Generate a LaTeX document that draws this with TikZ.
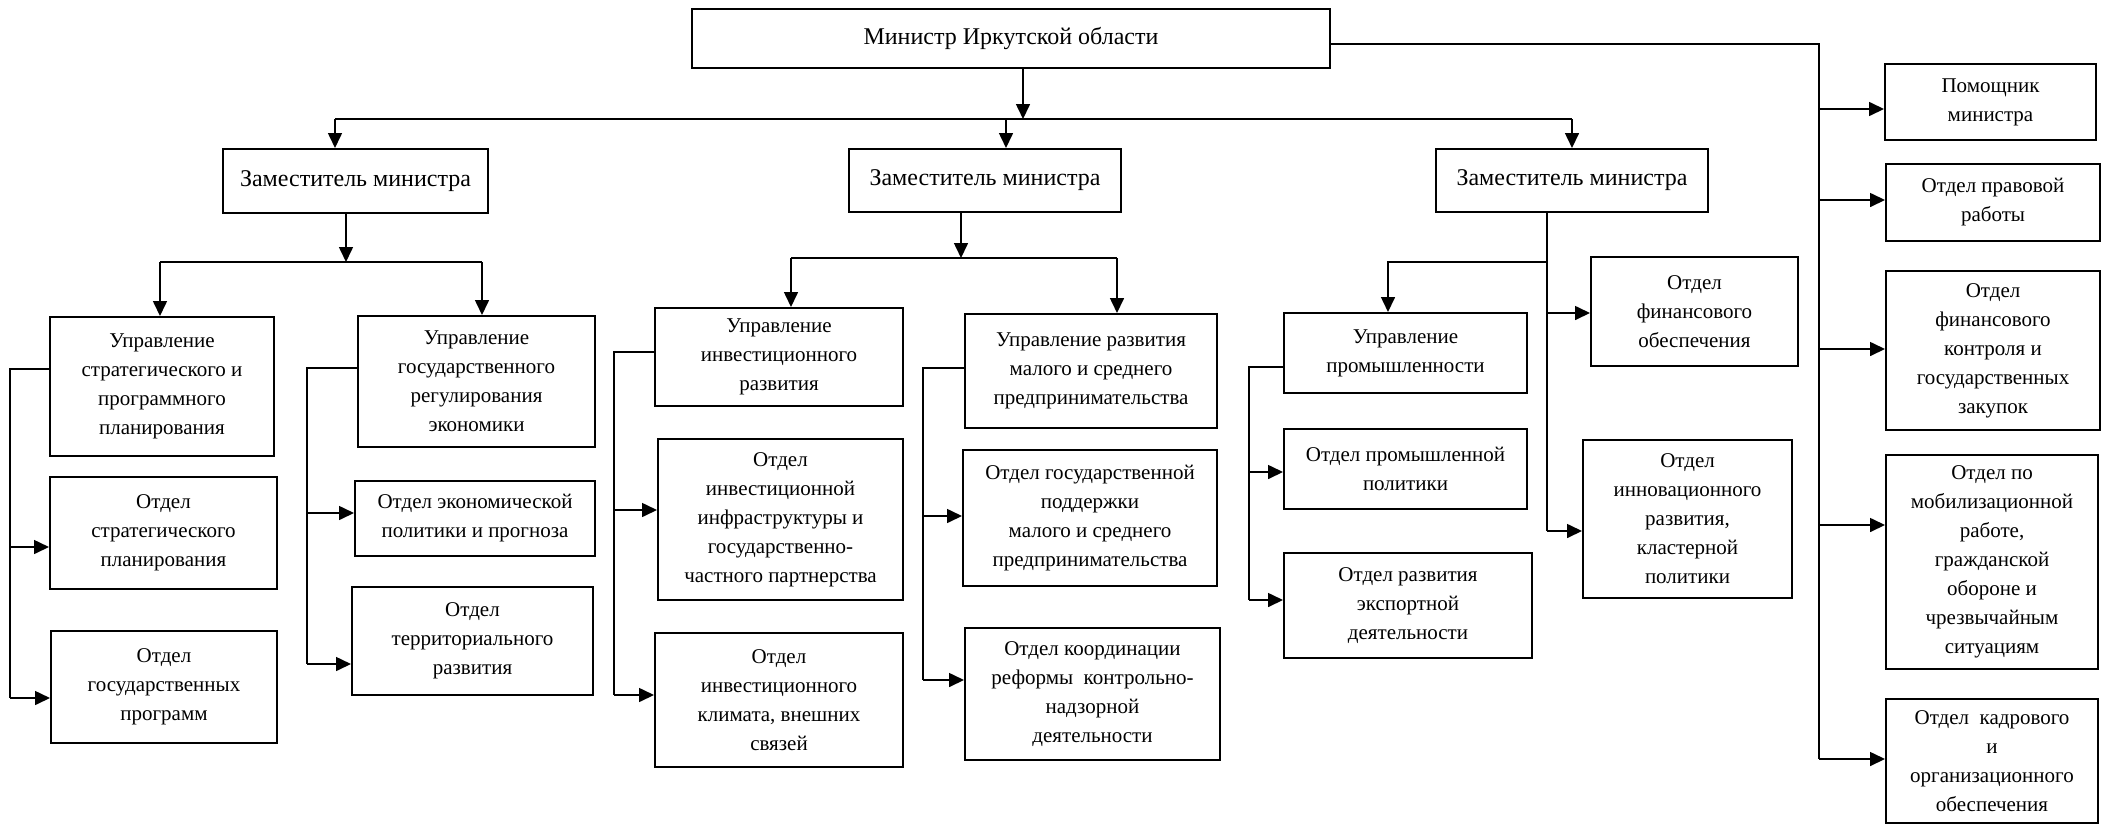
\documentclass[tikz,border=0pt]{standalone}
\usepackage{fontspec}
\setmainfont{Liberation Serif}
\usetikzlibrary{arrows.meta}
\tikzset{
  box/.style={draw, line width=1pt, inner sep=0pt, align=center, font=\fontsize{10.5}{14.5}\selectfont},
  topbox/.style={box, font=\fontsize{12}{14.5}\selectfont},
  conn/.style={draw, line width=0.8pt},
  arr/.style={conn, -{Triangle[length=7.5pt,width=7pt]}}
}
\newcommand\mybox[7][box]{\node[#1, minimum width={(#4-#2)*0.5pt}, minimum height={(#5-#3)*0.5pt}] (#6) at ({(#2+#4)/2},{(#3+#5)/2}) {#7};}
\begin{document}
\begin{tikzpicture}[x=0.5pt,y=-0.5pt]
\useasboundingbox (0,0) rectangle (2108,825);
% top level
\mybox[topbox]{692}{9}{1330}{68}{M}{Министр Иркутской области}
\mybox[topbox]{223}{149}{488}{213}{D1}{Заместитель министра}
\mybox[topbox]{849}{149}{1121}{212}{D2}{Заместитель министра}
\mybox[topbox]{1436}{149}{1708}{212}{D3}{Заместитель министра}
% right column
\mybox{1885}{64}{2096}{140}{R1}{Помощник\\министра}
\mybox{1886}{164}{2100}{241}{R2}{Отдел правовой\\работы}
\mybox{1886}{271}{2100}{430}{R3}{Отдел\\финансового\\контроля и\\государственных\\закупок}
\mybox{1886}{455}{2098}{669}{R4}{Отдел по\\мобилизационной\\работе,\\гражданской\\обороне и\\чрезвычайным\\ситуациям}
\mybox{1886}{699}{2098}{823}{R5}{Отдел~ кадрового\\и\\организационного\\обеспечения}
% D1 subtree
\mybox{50}{317}{274}{456}{A1}{Управление\\стратегического и\\программного\\планирования}
\mybox{358}{316}{595}{447}{A2}{Управление\\государственного\\регулирования\\экономики}
\mybox{50}{477}{277}{589}{A3}{Отдел\\стратегического\\планирования}
\mybox{51}{631}{277}{743}{A4}{Отдел\\государственных\\программ}
\mybox{355}{481}{595}{556}{A5}{Отдел экономической\\политики и прогноза}
\mybox{352}{587}{593}{695}{A6}{Отдел\\территориального\\развития}
% D2 subtree
\mybox{655}{308}{903}{406}{B1}{Управление\\инвестиционного\\развития}
\mybox{965}{314}{1217}{428}{B2}{Управление развития\\малого и среднего\\предпринимательства}
\mybox{658}{439}{903}{600}{B3}{Отдел\\инвестиционной\\инфраструктуры и\\государственно-\\частного партнерства}
\mybox{655}{633}{903}{767}{B4}{Отдел\\инвестиционного\\климата, внешних\\связей}
\mybox{963}{450}{1217}{586}{B5}{Отдел государственной\\поддержки\\малого и среднего\\предпринимательства}
\mybox{965}{628}{1220}{760}{B6}{Отдел координации\\реформы~ контрольно-\\надзорной\\деятельности}
% D3 subtree
\mybox{1284}{313}{1527}{393}{C1}{Управление\\промышленности}
\mybox{1591}{257}{1798}{366}{C2}{Отдел\\финансового\\обеспечения}
\mybox{1284}{429}{1527}{509}{C3}{Отдел промышленной\\политики}
\mybox{1583}{440}{1792}{598}{C4}{Отдел\\инновационного\\развития,\\кластерной\\политики}
\mybox{1284}{553}{1532}{658}{C5}{Отдел развития\\экспортной\\деятельности}
% ---- connectors: minister level
\coordinate (mj) at (1023,119);
\coordinate (busL) at (335,119);
\coordinate (busR) at (1572,119);
\coordinate (j2) at (1006,119);
\draw[conn] (busL) -- (busR);
\draw[arr] (mj |- M.south) -- (mj);
\draw[arr] (busL) -- (busL |- D1.north);
\draw[arr] (j2) -- (j2 |- D2.north);
\draw[arr] (busR) -- (busR |- D3.north);
% right column
\coordinate (rt) at (1819,44);
\coordinate (rb) at (1819,759);
\draw[conn] (M.east |- rt) -- (rt) -- (rb);
\coordinate (r1) at (1819,109);
\coordinate (r2) at (1819,200);
\coordinate (r3) at (1819,349);
\coordinate (r4) at (1819,525);
\draw[arr] (r1) -- (r1 -| R1.west);
\draw[arr] (r2) -- (r2 -| R2.west);
\draw[arr] (r3) -- (r3 -| R3.west);
\draw[arr] (r4) -- (r4 -| R4.west);
\draw[arr] (rb) -- (rb -| R5.west);
% D1 subtree
\coordinate (d1j) at (346,262);
\coordinate (d1L) at (160,262);
\coordinate (d1R) at (482,262);
\draw[conn] (d1L) -- (d1R);
\draw[arr] (d1j |- D1.south) -- (d1j);
\draw[arr] (d1L) -- (d1L |- A1.north);
\draw[arr] (d1R) -- (d1R |- A2.north);
\coordinate (sa1) at (10,369);
\coordinate (sa3) at (10,547);
\coordinate (sa4) at (10,698);
\draw[conn] (sa1 -| A1.west) -- (sa1) -- (sa4);
\draw[arr] (sa3) -- (sa3 -| A3.west);
\draw[arr] (sa4) -- (sa4 -| A4.west);
\coordinate (sa2) at (307,368);
\coordinate (sa5) at (307,513);
\coordinate (sa6) at (307,664);
\draw[conn] (sa2 -| A2.west) -- (sa2) -- (sa6);
\draw[arr] (sa5) -- (sa5 -| A5.west);
\draw[arr] (sa6) -- (sa6 -| A6.west);
% D2 subtree
\coordinate (d2j) at (961,258);
\coordinate (d2L) at (791,258);
\coordinate (d2R) at (1117,258);
\draw[conn] (d2L) -- (d2R);
\draw[arr] (d2j |- D2.south) -- (d2j);
\draw[arr] (d2L) -- (d2L |- B1.north);
\draw[arr] (d2R) -- (d2R |- B2.north);
\coordinate (sb1) at (614,352);
\coordinate (sb3) at (614,510);
\coordinate (sb4) at (614,695);
\draw[conn] (sb1 -| B1.west) -- (sb1) -- (sb4);
\draw[arr] (sb3) -- (sb3 -| B3.west);
\draw[arr] (sb4) -- (sb4 -| B4.west);
\coordinate (sb2) at (923,368);
\coordinate (sb5) at (923,516);
\coordinate (sb6) at (923,680);
\draw[conn] (sb2 -| B2.west) -- (sb2) -- (sb6);
\draw[arr] (sb5) -- (sb5 -| B5.west);
\draw[arr] (sb6) -- (sb6 -| B6.west);
% D3 subtree
\coordinate (c0) at (1547,212);
\coordinate (cb) at (1547,262);
\coordinate (cbl) at (1388,262);
\coordinate (c2) at (1547,313);
\coordinate (c4) at (1547,531);
\draw[conn] (c0 |- D3.south) -- (c4);
\draw[arr] (cb) -- (cbl) -- (cbl |- C1.north);
\draw[arr] (c2) -- (c2 -| C2.west);
\draw[arr] (c4) -- (c4 -| C4.west);
\coordinate (sc1) at (1249,367);
\coordinate (sc3) at (1249,472);
\coordinate (sc5) at (1249,600);
\draw[conn] (sc1 -| C1.west) -- (sc1) -- (sc5);
\draw[arr] (sc3) -- (sc3 -| C3.west);
\draw[arr] (sc5) -- (sc5 -| C5.west);
\end{tikzpicture}
\end{document}
